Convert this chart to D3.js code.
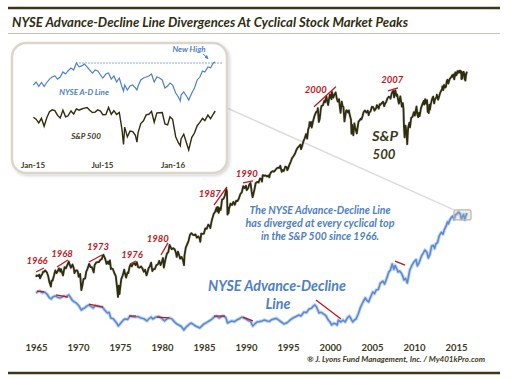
<!DOCTYPE html>
<html><head><meta charset="utf-8">
<script src="https://cdn.jsdelivr.net/npm/d3@7/dist/d3.min.js"></script>
<style>body{margin:0;background:#fff}svg{display:block}text{font-family:Lato,"Open Sans",sans-serif}</style>
</head><body><svg id="c" width="526" height="379"></svg>
<script>
// ---------- DATA ----------
const axisYears = [1965,1970,1975,1980,1985,1990,1995,2000,2005,2010,2015];

// S&P 500 (decimal year, index level)
const spx = [[1965.00,85],[1965.08,87],[1965.25,86],[1965.40,88],[1965.48,83],[1965.60,86],[1965.75,89],[1965.85,92],[1965.97,92],
[1966.10,94],[1966.30,91],[1966.45,86],[1966.60,78],[1966.77,73],[1966.85,80],[1966.97,80],
[1967.15,87],[1967.30,94],[1967.45,90],[1967.60,93],[1967.73,97],[1967.90,92],[1967.98,96],
[1968.15,89],[1968.22,87],[1968.40,99],[1968.55,97],[1968.75,103],[1968.90,108],[1968.98,104],
[1969.15,98],[1969.35,103],[1969.50,97],[1969.58,90],[1969.75,94],[1969.90,94],[1969.98,92],
[1970.08,85],[1970.25,89],[1970.40,69],[1970.50,73],[1970.65,82],[1970.85,83],[1970.98,92],
[1971.15,97],[1971.33,104],[1971.50,99],[1971.65,99],[1971.87,91],[1971.98,102],
[1972.15,106],[1972.33,107],[1972.50,107],[1972.67,111],[1972.83,112],[1972.95,118],
[1973.03,120],[1973.25,112],[1973.40,104],[1973.58,108],[1973.67,104],[1973.80,110],[1973.92,96],[1973.98,97],
[1974.15,96],[1974.33,90],[1974.50,86],[1974.65,72],[1974.76,62],[1974.85,74],[1974.92,69],[1974.95,65],[1974.99,69],
[1975.15,82],[1975.33,87],[1975.50,95],[1975.60,89],[1975.73,84],[1975.90,91],[1975.99,90],
[1976.15,100],[1976.25,103],[1976.40,100],[1976.55,104],[1976.73,105],[1976.85,102],[1976.99,107],
[1977.15,99],[1977.33,98],[1977.50,100],[1977.67,97],[1977.83,92],[1977.99,95],
[1978.15,87],[1978.22,89],[1978.40,97],[1978.55,100],[1978.70,106],[1978.85,93],[1978.99,96],
[1979.15,96],[1979.33,102],[1979.50,103],[1979.67,109],[1979.83,102],[1979.99,108],
[1980.12,114],[1980.22,98],[1980.40,111],[1980.58,122],[1980.75,125],[1980.90,140],[1980.99,136],
[1981.15,131],[1981.33,133],[1981.50,131],[1981.67,123],[1981.75,116],[1981.90,126],[1981.99,122],
[1982.15,113],[1982.33,116],[1982.50,110],[1982.62,102],[1982.68,119],[1982.83,134],[1982.99,141],
[1983.15,148],[1983.33,164],[1983.50,168],[1983.67,164],[1983.83,163],[1983.99,165],
[1984.15,157],[1984.33,160],[1984.50,153],[1984.56,147],[1984.67,167],[1984.83,166],[1984.99,167],
[1985.15,181],[1985.33,180],[1985.50,192],[1985.67,188],[1985.75,182],[1985.90,202],[1985.99,211],
[1986.15,227],[1986.33,235],[1986.50,251],[1986.58,236],[1986.67,253],[1986.75,231],[1986.90,249],[1986.99,242],
[1987.15,284],[1987.33,288],[1987.50,304],[1987.65,336],[1987.73,321],[1987.80,225],[1987.83,252],[1987.92,230],[1987.99,247],
[1988.15,267],[1988.33,261],[1988.50,274],[1988.67,262],[1988.83,279],[1988.99,278],
[1989.15,289],[1989.33,310],[1989.50,318],[1989.67,351],[1989.78,342],[1989.83,340],[1989.99,353],
[1990.08,329],[1990.25,339],[1990.40,361],[1990.54,368],[1990.67,323],[1990.78,295],[1990.85,304],[1990.99,330],
[1991.15,367],[1991.33,375],[1991.50,371],[1991.67,395],[1991.83,392],[1991.90,376],[1991.99,417],
[1992.15,412],[1992.33,415],[1992.50,408],[1992.67,414],[1992.78,403],[1992.83,419],[1992.99,436],
[1993.15,443],[1993.33,440],[1993.50,451],[1993.67,464],[1993.83,468],[1993.99,466],
[1994.08,482],[1994.25,438],[1994.33,451],[1994.50,444],[1994.67,475],[1994.83,472],[1994.92,450],[1994.99,459],
[1995.15,487],[1995.33,515],[1995.50,545],[1995.67,562],[1995.83,582],[1995.99,616],
[1996.15,640],[1996.33,654],[1996.48,671],[1996.55,626],[1996.67,652],[1996.83,706],[1996.99,741],
[1997.15,791],[1997.28,737],[1997.40,848],[1997.50,885],[1997.58,954],[1997.67,900],[1997.77,955],[1997.82,877],[1997.99,970],
[1998.15,1049],[1998.33,1112],[1998.50,1134],[1998.55,1187],[1998.67,957],[1998.78,1005],[1998.90,1164],[1998.99,1229],
[1999.15,1238],[1999.33,1335],[1999.42,1302],[1999.50,1373],[1999.58,1420],[1999.67,1320],[1999.78,1247],[1999.90,1389],[1999.99,1469],
[2000.10,1394],[2000.18,1366],[2000.23,1527],[2000.33,1452],[2000.40,1400],[2000.50,1455],[2000.67,1518],[2000.75,1436],[2000.83,1364],[2000.92,1315],[2000.99,1320],
[2001.08,1366],[2001.15,1240],[2001.26,1103],[2001.40,1312],[2001.50,1224],[2001.60,1211],[2001.72,965],[2001.83,1059],[2001.92,1139],[2001.99,1148],
[2002.15,1107],[2002.25,1147],[2002.33,1077],[2002.50,990],[2002.56,797],[2002.62,916],[2002.72,815],[2002.78,777],[2002.90,936],[2002.99,880],
[2003.10,830],[2003.19,800],[2003.25,848],[2003.40,964],[2003.50,974],[2003.67,1008],[2003.75,996],[2003.90,1058],[2003.99,1112],
[2004.15,1145],[2004.33,1107],[2004.50,1141],[2004.60,1063],[2004.67,1104],[2004.83,1130],[2004.99,1212],
[2005.15,1204],[2005.30,1142],[2005.50,1191],[2005.58,1245],[2005.67,1220],[2005.80,1177],[2005.92,1265],[2005.99,1248],
[2006.15,1281],[2006.33,1311],[2006.45,1223],[2006.55,1270],[2006.67,1304],[2006.83,1378],[2006.99,1418],
[2007.15,1407],[2007.20,1374],[2007.33,1482],[2007.45,1539],[2007.55,1553],[2007.63,1406],[2007.70,1526],[2007.78,1565],[2007.90,1440],[2007.99,1468],
[2008.08,1379],[2008.20,1273],[2008.37,1426],[2008.50,1280],[2008.55,1214],[2008.67,1282],[2008.75,1166],[2008.80,899],[2008.88,752],[2008.92,896],[2008.99,903],
[2009.08,826],[2009.15,735],[2009.19,676],[2009.30,873],[2009.45,944],[2009.52,879],[2009.67,1021],[2009.83,1036],[2009.99,1115],
[2010.10,1056],[2010.30,1217],[2010.40,1071],[2010.50,1031],[2010.58,1102],[2010.67,1049],[2010.83,1183],[2010.99,1258],
[2011.15,1327],[2011.22,1256],[2011.33,1364],[2011.47,1268],[2011.55,1345],[2011.63,1119],[2011.70,1150],[2011.76,1099],[2011.83,1253],[2011.90,1158],[2011.99,1258],
[2012.15,1366],[2012.28,1419],[2012.40,1278],[2012.50,1362],[2012.67,1406],[2012.72,1465],[2012.87,1354],[2012.99,1426],
[2013.10,1498],[2013.33,1598],[2013.38,1669],[2013.48,1573],[2013.58,1709],[2013.67,1633],[2013.80,1656],[2013.90,1807],[2013.99,1848],
[2014.09,1741],[2014.25,1872],[2014.42,1924],[2014.55,1987],[2014.58,1931],[2014.72,2011],[2014.79,1862],[2014.92,2075],[2014.96,1972],[2014.99,2059],
[2015.08,1995],[2015.17,2117],[2015.25,2061],[2015.38,2130],[2015.50,2063],[2015.55,2128],[2015.63,2091],[2015.65,1868],[2015.70,1988],[2015.74,1881],[2015.85,2090],[2015.92,2091],[2015.96,2005],[2015.99,2044],
[2016.03,1880],[2016.05,1859],[2016.12,1829],[2016.20,1999],[2016.25,2050],[2016.30,2100]];

// NYSE Advance-Decline line (decimal year, relative index)
const adLine = [[1965.0,32.3],[1965.25,33.5],[1965.5,33.8],[1965.75,32.5],[1966.0,33.1],[1966.3,31.5],[1966.55,29],[1966.8,27.7],[1967.05,29.5],[1967.3,30],[1967.55,29.2],[1967.8,28.5],[1968.05,29],[1968.3,30],[1968.6,29.5],[1968.9,30.8],[1969.1,29],[1969.3,26.9],[1969.55,25.5],[1969.8,24.6],[1970.1,22.5],[1970.4,19.2],[1970.6,20.2],[1970.8,20.8],[1971.05,22.2],[1971.3,23.1],[1971.55,22],[1971.8,20.8],[1972.05,22.6],[1972.3,22.3],[1972.6,21.8],[1972.9,21.5],[1973.2,19],[1973.5,16.9],[1973.7,17.5],[1973.9,13.1],[1974.2,12.5],[1974.5,10],[1974.65,8.8],[1974.8,6.9],[1975.0,8.4],[1975.2,10],[1975.4,11.5],[1975.6,12.3],[1975.9,12],[1976.2,14.6],[1976.5,14],[1976.8,13.8],[1977.1,14.2],[1977.5,13.1],[1977.85,12.5],[1978.2,10.8],[1978.45,12.5],[1978.7,13.8],[1978.9,12.3],[1979.3,13.8],[1979.6,14.3],[1979.9,13.1],[1980.3,10.8],[1980.6,12.6],[1980.9,13.1],[1981.2,12.2],[1981.5,10],[1981.75,8.5],[1982.0,7.7],[1982.3,6.5],[1982.6,3.8],[1982.8,5.5],[1983.0,6.9],[1983.3,8.5],[1983.5,9.2],[1983.75,8],[1984.0,6.9],[1984.25,6.2],[1984.5,5.4],[1984.75,7],[1985.0,8.5],[1985.3,9.5],[1985.6,10.8],[1985.9,12],[1986.2,13.8],[1986.5,14.5],[1986.8,13.1],[1987.05,14],[1987.3,14.6],[1987.6,13.5],[1987.8,9.2],[1988.05,10],[1988.3,10.8],[1988.6,10.2],[1988.9,11.5],[1989.2,12.5],[1989.5,13.8],[1989.75,13],[1990.0,12.3],[1990.3,11],[1990.55,10.5],[1990.8,6.9],[1991.05,8.5],[1991.3,10],[1991.6,10.3],[1991.9,10.8],[1992.2,11.5],[1992.5,10.8],[1992.8,10.5],[1993.05,11.8],[1993.3,12.3],[1993.6,12.8],[1993.9,11.5],[1994.2,10],[1994.5,8.5],[1994.75,9],[1995.0,10],[1995.3,11.8],[1995.6,13.1],[1995.95,14.2],[1996.3,15.4],[1996.55,14.6],[1996.9,17.7],[1997.2,17.2],[1997.5,20],[1997.8,20.6],[1998.0,22.2],[1998.2,23.1],[1998.4,21.5],[1998.7,16.9],[1998.95,17.5],[1999.2,16.2],[1999.5,15],[1999.8,11.5],[2000.0,10],[2000.2,7.7],[2000.45,9],[2000.7,8.5],[2000.85,7.6],[2001.0,11.5],[2001.3,10],[2001.55,11.5],[2001.8,10],[2002.05,13],[2002.3,14.6],[2002.5,12.5],[2002.7,10],[2002.9,11.5],[2003.1,12.3],[2003.35,16],[2003.6,20.8],[2003.9,25],[2004.2,28.5],[2004.4,26.5],[2004.6,25.4],[2004.85,29.5],[2005.1,33.1],[2005.3,31.8],[2005.5,34.6],[2005.75,35],[2006.0,40],[2006.3,41.5],[2006.5,39.2],[2006.75,43.5],[2007.0,48.5],[2007.2,50],[2007.4,54.6],[2007.6,50.5],[2007.75,53.5],[2007.9,51.5],[2008.1,48.5],[2008.3,49.2],[2008.5,47.5],[2008.65,45.5],[2008.8,42.3],[2009.0,43.5],[2009.2,40],[2009.35,45],[2009.5,50],[2009.75,53.5],[2010.0,56.2],[2010.25,58],[2010.4,53.1],[2010.6,55.5],[2010.9,60.8],[2011.1,63],[2011.3,65.4],[2011.55,63.5],[2011.7,59.2],[2011.9,62],[2012.1,68.5],[2012.3,69],[2012.45,66.5],[2012.6,70],[2012.8,71],[2013.0,76.2],[2013.25,79],[2013.45,77.5],[2013.6,80.8],[2013.8,83.5],[2014.0,87],[2014.1,85.5],[2014.25,88.2],[2014.4,90],[2014.6,91.5],[2014.78,88.8],[2014.9,92.3],[2015.1,93],[2015.3,94.6],[2015.5,93.2],[2015.65,89],[2015.75,90.8],[2015.9,92.8],[2016.05,88.5],[2016.12,90.8],[2016.3,93.8]];

// Divergence lines: [t0, v0, t1, v1]
const spxDivergences = [[1965.0,91.7,1965.95,97.6],[1967.5,99.1,1968.8,110.6],[1971.3,107.2,1972.86,119.6],[1976.19,103.9,1976.9,108.9],[1979.88,119.6,1980.71,144.3],[1986.19,261,1987.74,346.5],[1989.64,369,1990.83,380.6],[1998.1,1211,2000.7,1656],[2006.9,1555,2008.1,1630]];
const adDivergences = [[1965.12,33.8,1965.95,33.1],[1967.38,30.8,1968.81,29.2],[1971.31,23.8,1972.98,21.5],[1976.07,14.6,1976.9,14.6],[1979.4,13.8,1980.83,13.1],[1986.19,14.6,1987.5,14.6],[1989.64,13.8,1990.83,10.8],[1998.33,26.9,2001.31,12.3],[2007.74,56.9,2008.93,53.8]];
const peakLabels = ["1966","1968","1973","1976","1980","1987","1990","2000","2007"];
const peakLabelT = [1965.12,1968.1,1972.38,1976.43,1979.5,1985.7,1990.1,1998.3,2007.4];
const peakLabelV = [108.9,121.5,135.5,119.6,153.6,310.6,424.6,1580,1848];

// Inset (2015 - Apr 2016), weekly
const insetDates = ["2015-01-02","2015-01-09","2015-01-16","2015-01-23","2015-01-30","2015-02-06","2015-02-13","2015-02-20","2015-02-27","2015-03-06","2015-03-13","2015-03-20","2015-03-27","2015-04-02","2015-04-10","2015-04-17","2015-04-24","2015-05-01","2015-05-08","2015-05-15","2015-05-22","2015-05-29","2015-06-05","2015-06-12","2015-06-19","2015-06-26","2015-07-02","2015-07-10","2015-07-17","2015-07-24","2015-07-31","2015-08-07","2015-08-14","2015-08-21","2015-08-25","2015-08-28","2015-09-04","2015-09-11","2015-09-18","2015-09-25","2015-09-29","2015-10-02","2015-10-09","2015-10-16","2015-10-23","2015-10-30","2015-11-06","2015-11-13","2015-11-20","2015-11-27","2015-12-04","2015-12-11","2015-12-18","2015-12-24","2015-12-31","2016-01-08","2016-01-15","2016-01-20","2016-01-22","2016-01-29","2016-02-05","2016-02-11","2016-02-19","2016-02-26","2016-03-04","2016-03-11","2016-03-18","2016-03-24","2016-04-01","2016-04-08","2016-04-15","2016-04-20"];
const insetSpx = [2058,2045,2019,2051,1995,2055,2097,2110,2105,2071,2053,2108,2061,2067,2102,2081,2117,2108,2116,2122,2126,2107,2092,2094,2110,2101,2076,2077,2127,2079,2104,2078,2092,1971,1868,1989,1921,1961,1958,1932,1884,1951,2014,2033,2075,2079,2099,2023,2089,2090,2091,2012,2005,2061,2044,1922,1880,1859,1907,1940,1880,1829,1918,1948,1999,2022,2050,2035,2073,2048,2081,2102];
const insetAD = [77.4,80.5,76,80,76,80,83.5,85.6,86.7,83.5,85.6,90.8,88.7,91.8,94.9,92.8,100,96,97,99,96,92.8,89.7,92.8,91.8,87.7,84.6,88.7,89.7,83.5,86.7,80.5,84.6,75.4,71.3,77.4,72.3,76.4,77.4,74.4,72.3,76.4,82.6,84.6,85.6,86.7,88.7,80.5,85.6,84.6,82.6,74.4,76.4,79.5,77.4,69.2,65.1,61,67.2,70.3,66.2,62,69.2,74.4,82.6,85.6,91.8,90.8,96,95,100,101];
const insetTicks = ["2015-01-01","2015-07-01","2016-01-01"];

// ---------- DRAW ----------
const svg = d3.select("#c");
const defs = svg.append("defs");
const f = defs.append("filter").attr("id","sh").attr("x","-10%").attr("y","-10%").attr("width","125%").attr("height","125%");
f.append("feDropShadow").attr("dx",1.5).attr("dy",1.5).attr("stdDeviation",1.5).attr("flood-color","#000").attr("flood-opacity",0.18);

const dark = "#2e2d10", red = "#c3161c", blue = "#4f80c4";

svg.append("rect").attr("width",526).attr("height",379).attr("fill","#fff");
svg.append("line").attr("x1",8).attr("x2",500).attr("y1",8).attr("y2",8).attr("stroke","#3a3818").attr("stroke-width",2.5);
svg.append("text").attr("x",12).attr("y",27).attr("font-size",14).attr("font-weight","bold").attr("font-style","italic")
  .attr("fill",dark).attr("textLength",396).attr("lengthAdjust","spacingAndGlyphs")
  .text("NYSE Advance-Decline Line Divergences At Cyclical Stock Market Peaks");
svg.append("line").attr("x1",8).attr("x2",500).attr("y1",33.5).attr("y2",33.5).attr("stroke","#c6c4ba").attr("stroke-width",1);
svg.append("line").attr("x1",8).attr("x2",500).attr("y1",373).attr("y2",373).attr("stroke","#3a3818").attr("stroke-width",2.5);

const x = d3.scaleLinear().domain([1965,2015]).range([36,456]);
const yS = d3.scaleLog().domain([62,1527]).range([297,92]);
const yA = d3.scaleLinear().domain([0,100]).range([335,205]);

// highlight box + connector
const bx0 = x(2014.76), bx1 = x(2016.79), by0 = yA(96.2), by1 = yA(88.5);
svg.append("line").attr("x1",227).attr("y1",108).attr("x2",bx0).attr("y2",by0).attr("stroke","#dcdcdc").attr("stroke-width",1.5);

// main lines
const lineS = d3.line().x(d=>x(d[0])).y(d=>yS(d[1]));
const lineA = d3.line().x(d=>x(d[0])).y(d=>yA(d[1]));
svg.append("path").datum(adLine).attr("d",lineA).attr("fill","none").attr("stroke","#c9d9f0").attr("stroke-width",3.6).attr("stroke-linejoin","round");
svg.append("path").datum(adLine).attr("d",lineA).attr("fill","none").attr("stroke","#5a8bd0").attr("stroke-width",1.6).attr("stroke-linejoin","round");
svg.append("path").datum(spx).attr("d",lineS).attr("fill","none").attr("stroke","#cfcfc4").attr("stroke-width",3).attr("stroke-linejoin","round").attr("opacity",0.6);
svg.append("path").datum(spx).attr("d",lineS).attr("fill","none").attr("stroke",dark).attr("stroke-width",1.8).attr("stroke-linejoin","round");

svg.append("rect").attr("x",bx0).attr("y",by0).attr("width",bx1-bx0).attr("height",by1-by0).attr("rx",2)
  .attr("fill","rgba(190,185,170,0.25)").attr("stroke","#bcb8a8").attr("stroke-width",1.2);

// divergence lines
svg.selectAll(".ds").data(spxDivergences).join("line").attr("x1",d=>x(d[0])).attr("y1",d=>yS(d[1])).attr("x2",d=>x(d[2])).attr("y2",d=>yS(d[3])).attr("stroke",red).attr("stroke-width",1.3);
svg.selectAll(".da").data(adDivergences).join("line").attr("x1",d=>x(d[0])).attr("y1",d=>yA(d[1])).attr("x2",d=>x(d[2])).attr("y2",d=>yA(d[3])).attr("stroke",red).attr("stroke-width",1.3);
svg.selectAll(".pl").data(peakLabels).join("text").attr("x",(d,i)=>x(peakLabelT[i])).attr("y",(d,i)=>yS(peakLabelV[i])+3.5)
  .attr("text-anchor","middle").attr("font-size",9.5).attr("font-weight","bold").attr("font-style","italic").attr("fill",red).text(d=>d);

// axis
const ax = svg.append("g").attr("transform","translate(0,340)")
  .call(d3.axisBottom(x).tickValues(axisYears).tickFormat(d3.format("d")).tickSize(0).tickPadding(4));
ax.select(".domain").remove();
ax.selectAll("text").attr("font-size",9.5).attr("font-weight","bold").attr("fill","#3b3a1c").attr("font-family","Lato, sans-serif");

svg.append("text").attr("x",485).attr("y",362).attr("text-anchor","end").attr("font-size",8).attr("font-weight","bold").attr("font-style","italic").attr("fill","#3b3a1c")
  .text("\u00AE J. Lyons Fund Management, Inc. / My401kPro.com");

// main labels
const lab = (t,xx,yy,fs,col,len)=>{const e=svg.append("text").attr("x",xx).attr("y",yy).attr("text-anchor","middle").attr("font-size",fs).attr("font-weight","bold").attr("font-style","italic").attr("fill",col).text(t); if(len) e.attr("textLength",len).attr("lengthAdjust","spacingAndGlyphs"); return e;};
lab("S&P",385,141,14,"#3b3a17",26);
lab("500",384,158.5,14,"#3b3a17",23);
lab("NYSE Advance-Decline",277,290.5,16,blue,138);
lab("Line",278,308.5,16,blue,25);
lab("The NYSE Advance-Decline  Line",320,214,11,blue,141);
lab("has diverged at every cyclical top",320,227,11,blue,149);
lab("in the S&P 500 since 1966.",320,240,11,blue,118);

// ---------- INSET ----------
svg.append("rect").attr("x",12).attr("y",43).attr("width",215).attr("height",130).attr("rx",14)
  .attr("fill","#fff").attr("stroke","#dad6ca").attr("stroke-width",2.5).attr("filter","url(#sh)");
const pd = d3.timeParse("%Y-%m-%d");
const iDates = insetDates.map(pd);
const xi = d3.scaleTime().domain([pd("2015-01-01"),pd("2016-01-01")]).range([33,173]);
const yiA = d3.scaleLinear().domain([60,100]).range([102,63]);
const yiS = d3.scaleLinear().domain([1829,2130]).range([150,107]);
const peakIdx = insetAD.slice(0,-3).indexOf(d3.max(insetAD.slice(0,-3)));
svg.append("line").attr("x1",xi(iDates[peakIdx])).attr("x2",222).attr("y1",yiA(insetAD[peakIdx])).attr("y2",yiA(insetAD[peakIdx]))
  .attr("stroke",blue).attr("stroke-width",1.2).attr("stroke-dasharray","1.3,1.7");
svg.append("path").datum(insetAD).attr("d",d3.line().x((d,i)=>xi(iDates[i])).y(d=>yiA(d))).attr("fill","none").attr("stroke","#4f80c8").attr("stroke-width",1.2);
svg.append("path").datum(insetSpx).attr("d",d3.line().x((d,i)=>xi(iDates[i])).y(d=>yiS(d))).attr("fill","none").attr("stroke",dark).attr("stroke-width",1.4);
const ilab=(t,xx,yy,col,fs)=>svg.append("text").attr("x",xx).attr("y",yy).attr("text-anchor","middle").attr("font-size",fs).attr("font-weight","bold").attr("font-style","italic").attr("fill",col).text(t);
ilab("NYSE A-D Line",84,95,blue,8);
ilab("S&P 500",86,139,"#3b3a17",8);
ilab("New High",189,52,blue,8);
defs.append("marker").attr("id","ah").attr("viewBox","0 0 10 10").attr("refX",8).attr("refY",5).attr("markerWidth",4).attr("markerHeight",4).attr("orient","auto")
  .append("path").attr("d","M0,0L10,5L0,10z").attr("fill",blue);
svg.append("line").attr("x1",203).attr("y1",54).attr("x2",208).attr("y2",58.5).attr("stroke",blue).attr("stroke-width",1).attr("marker-end","url(#ah)");
svg.selectAll(".it").data(insetTicks).join("text").attr("x",d=>xi(pd(d))).attr("y",168).attr("text-anchor","middle")
  .attr("font-size",8).attr("font-weight","bold").attr("fill","#3b3a1c").text(d=>d3.timeFormat("%b-%y")(pd(d)));
</script></body></html>
